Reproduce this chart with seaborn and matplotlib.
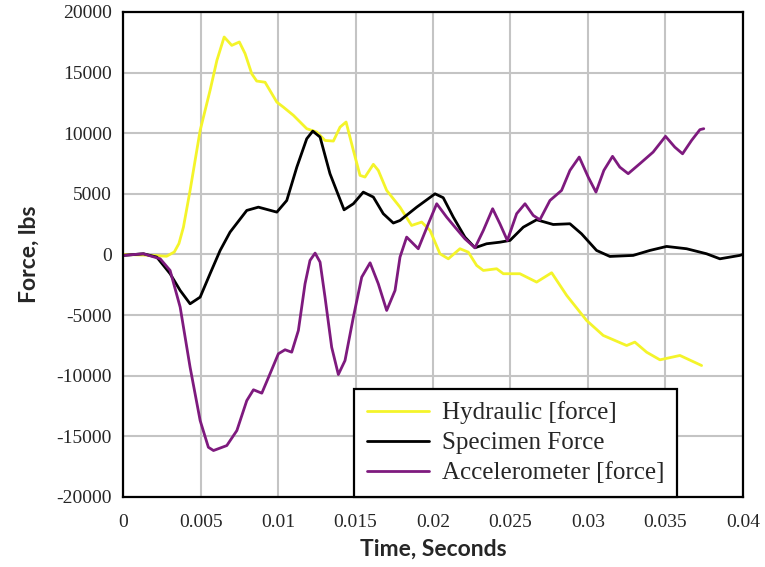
import numpy as np
import pandas as pd
import matplotlib
matplotlib.use("Agg")
import matplotlib.pyplot as plt
import seaborn as sns

# Hydraulic actuator force trace (time in s, force in lbs)
hyd_t = [0.0, 0.0013, 0.0022, 0.0028, 0.0033, 0.0036, 0.00389, 0.00432, 0.00497, 0.00561,
         0.00605, 0.00652, 0.00701, 0.0075, 0.00787, 0.0083, 0.00862, 0.00916, 0.00992, 0.01034,
         0.01099, 0.01185, 0.0125, 0.01303, 0.01357, 0.0140, 0.01439, 0.01486, 0.01529, 0.01561,
         0.01615, 0.01647, 0.01701, 0.01787, 0.01862, 0.01927, 0.01981, 0.02045, 0.02099, 0.02174,
         0.02228, 0.02282, 0.02325, 0.02411, 0.02454, 0.02561, 0.02669, 0.02766, 0.02863, 0.02992,
         0.03099, 0.0325, 0.03303, 0.03379, 0.03465, 0.03594, 0.03734]
hyd_f = [0, -50, -100, -150, 200, 900, 2250, 5280, 10230, 13530,
         16000, 17930, 17240, 17520, 16560, 14900, 14300, 14200, 12560, 12150,
         11470, 10370, 10090, 9400, 9350, 10500, 10920, 8580, 6520, 6380,
         7430, 6930, 5280, 3900, 2390, 2670, 1980, 55, -360, 470,
         190, -910, -1320, -1180, -1590, -1590, -2280, -1510, -3380, -5450,
         -6680, -7510, -7230, -8060, -8690, -8330, -9160]

# Load cell on the specimen
spec_t = [0.0, 0.00131, 0.00217, 0.00303, 0.00368, 0.00432, 0.00497, 0.00561, 0.00626, 0.0069,
          0.00798, 0.00873, 0.00992, 0.01056, 0.01121, 0.01185, 0.01224, 0.01271, 0.01335, 0.01426,
          0.01486, 0.0155, 0.01615, 0.01679, 0.01744, 0.01787, 0.01895, 0.02013, 0.02066, 0.02131,
          0.02206, 0.02271, 0.02346, 0.02432, 0.02497, 0.02583, 0.02669, 0.02776, 0.02884, 0.02959,
          0.03056, 0.03142, 0.03292, 0.034, 0.03508, 0.03637, 0.03766, 0.03852, 0.0398, 0.04]
spec_f = [-80, 55, -220, -1590, -2970, -4070, -3520, -1590, 330, 1840,
          3630, 3900, 3490, 4450, 7200, 9540, 10170, 9680, 6660, 3680,
          4180, 5140, 4730, 3360, 2590, 2800, 3900, 5000, 4680, 3080,
          1430, 550, 880, 1010, 1155, 2250, 2860, 2470, 2530, 1700,
          330, -165, -80, 330, 660, 470, 55, -360, -80, 0]

# Force derived from the accelerometer
acc_t = [0.0, 0.0013, 0.00239, 0.00303, 0.00368, 0.00432, 0.00497, 0.0055, 0.00583, 0.00669,
         0.00734, 0.00798, 0.00841, 0.00895, 0.00948, 0.01002, 0.01045, 0.01088, 0.01131, 0.01174,
         0.01206, 0.01239, 0.01271, 0.01303, 0.01346, 0.01389, 0.01432, 0.01486, 0.0154, 0.01594,
         0.01647, 0.01701, 0.01755, 0.01787, 0.0183, 0.01905, 0.0197, 0.02024, 0.02088, 0.02142,
         0.02206, 0.02271, 0.02325, 0.02385, 0.02432, 0.0248, 0.0254, 0.02594, 0.02647, 0.0269,
         0.02755, 0.0283, 0.02884, 0.02944, 0.03002, 0.03052, 0.03103, 0.03159, 0.03206, 0.0326,
         0.03335, 0.03421, 0.03501, 0.03561, 0.03611, 0.03669, 0.03723, 0.03748]
acc_f = [-80, 55, -360, -1320, -4350, -9300, -13700, -15900, -16170, -15760,
         -14520, -12050, -11160, -11440, -9840, -8190, -7860, -8060, -6270, -2420,
         -495, 110, -630, -3520, -7650, -9900, -8750, -5170, -1870, -690,
         -2420, -4620, -2970, -220, 1430, 470, 2530, 4180, 3080, 2250,
         1290, 550, 1980, 3770, 2530, 1155, 3360, 4180, 3220, 2860,
         4450, 5280, 6930, 8030, 6380, 5140, 6930, 8090, 7200, 6660,
         7480, 8440, 9740, 8850, 8300, 9400, 10290, 10370]

series_names = ["Hydraulic [force]", "Specimen Force", "Accelerometer [force]"]
series_colors = ["#F4F42A", "#000000", "#7E1A7E"]

x_ticks = [0, 0.005, 0.01, 0.015, 0.02, 0.025, 0.03, 0.035, 0.04]
x_tick_labels = ["0", "0.005", "0.01", "0.015", "0.02", "0.025", "0.03", "0.035", "0.04"]
y_ticks = [-20000, -15000, -10000, -5000, 0, 5000, 10000, 15000, 20000]

frames = []
for name, t, f in zip(series_names, [hyd_t, spec_t, acc_t], [hyd_f, spec_f, acc_f]):
    frames.append(pd.DataFrame({"time": t, "force": f, "series": name}))
df = pd.concat(frames, ignore_index=True)

sns.set_style("white")
fig = plt.figure(figsize=(7.65, 5.67), dpi=100)
ax = fig.add_axes([0.161, 0.1235, 0.81, 0.8555])

sns.lineplot(data=df, x="time", y="force", hue="series", hue_order=series_names,
             palette=series_colors, sort=False, estimator=None, linewidth=2.0, ax=ax)
for ln in ax.get_lines():
    ln.set_solid_joinstyle("round")
    ln.set_solid_capstyle("round")

ax.set_xlim(0, 0.04)
ax.set_ylim(-20000, 20000)
ax.set_xticks(x_ticks)
ax.set_xticklabels(x_tick_labels)
ax.set_yticks(y_ticks)
ax.set_yticklabels([str(v) for v in y_ticks])
ax.grid(True, color="#c4c4c4", linewidth=1.5)
ax.set_axisbelow(True)
for s in ax.spines.values():
    s.set_color("black")
    s.set_linewidth(1.6)
ax.tick_params(axis="both", length=0, labelsize=14)
ax.tick_params(axis="x", pad=12)
ax.tick_params(axis="y", pad=8)
for lab in ax.get_xticklabels() + ax.get_yticklabels():
    lab.set_family("Liberation Serif")

ax.set_xlabel("Time, Seconds", fontsize=16.5, fontweight="bold", family="Lato", labelpad=6)
ax.set_ylabel("Force, lbs", fontsize=16.5, fontweight="bold", family="Lato", labelpad=12)

leg = ax.legend(loc="lower left", bbox_to_anchor=(0.373, 0.0), borderaxespad=0,
                frameon=True, fancybox=False, framealpha=1, edgecolor="black",
                prop={"family": "Liberation Serif", "size": 18},
                handlelength=2.5, handletextpad=0.5, labelspacing=0.3,
                borderpad=0.5)
leg.get_frame().set_linewidth(1.6)
for line in leg.get_lines():
    line.set_linewidth(2.0)

fig.savefig("out.png", dpi=100)
